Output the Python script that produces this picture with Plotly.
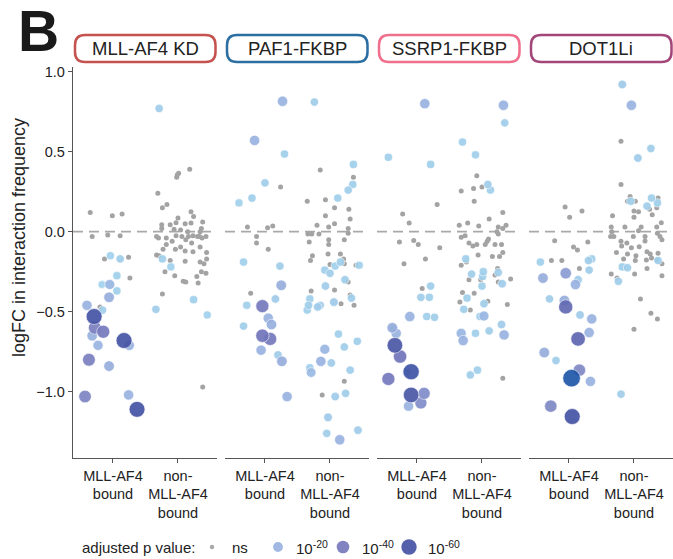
import plotly.graph_objects as go
from plotly.subplots import make_subplots

# ---------------- data ----------------
PANELS = ["MLL-AF4 KD", "PAF1-FKBP", "SSRP1-FKBP", "DOT1Li"]
PANEL_COLORS = ["#c4524e", "#2b6ea1", "#ef6f8d", "#a3477a"]
GROUP_LABELS = ["MLL-AF4<br>bound", "non-<br>MLL-AF4<br>bound"]
Y_TICKS = [1.0, 0.5, 0.0, -0.5, -1.0]
Y_TICK_TEXT = ["1.0", "0.5", "0.0", "\u22120.5", "\u22121.0"]
LEGEND_LEVELS = ["ns", "10<sup>-20</sup>", "10<sup>-40</sup>", "10<sup>-60</sup>"]
LEGEND_SIG = [0, 20, 40, 60]

# sig = -log10(adjusted p); 0 = not significant.  jit = horizontal jitter (category units)
kd_bound_logfc = [0.12, 0.10, 0.11, -0.03, -0.02, -0.025, -0.17, -0.16, -0.29, -0.47,
                  -0.15, -0.17, -0.275, -0.33, -0.37, -0.49,
                  -0.33, -0.41, -0.46, -0.65, -0.71, -0.71, -0.84, -1.02,
                  -0.60, -0.625, -0.80, -1.03, -0.53, -0.68, -1.11]
kd_bound_sig = [0] * 10 + [4, 6, 5, 3, 5, 6] + [18, 22, 20, 21, 20, 19, 22, 20] + [38, 40, 38, 36] + [60, 60, 60]
kd_bound_jit = [-0.35, -0.01, 0.14, -0.32, -0.08, 0.11, -0.13, 0.24, 0.26, -0.20,
                -0.04, 0.11, 0.06, -0.17, 0.06, -0.16,
                -0.05, -0.06, -0.40, -0.32, 0.25, -0.23, -0.06, 0.24,
                -0.28, -0.15, -0.37, -0.43, -0.29, 0.17, 0.37]

kd_non_logfc = [0.77, -0.17, -0.22, -0.425, -0.485, -0.52,
                0.39, 0.355, 0.365, 0.34, 0.24, 0.15, 0.17, 0.125, 0.095, 0.085,
                0.056, 0.044, 0.044, 0.06, 0.05, 0.055, 0.02, 0.015, 0.01, 0.02,
                0.0, 0.0, -0.03, -0.04, -0.04, -0.025, -0.03, -0.03, -0.025, -0.03,
                -0.04, -0.03, -0.06, -0.05, -0.03, -0.07, -0.08, -0.11, -0.095, -0.12,
                -0.125, -0.095, -0.13, -0.11, -0.145, -0.15, -0.18, -0.185, -0.17, -0.2,
                -0.19, -0.25, -0.275, -0.31, -0.315, -0.28, -0.32, -0.25, -0.26, -0.39, -0.97]
kd_non_sig = [6, 5, 4, 5, 6, 4] + [0] * 61
kd_non_jit = [-0.29, -0.24, -0.11, 0.24, -0.34, 0.45,
              0.18, -0.01, 0.01, -0.02, -0.31, -0.24, -0.17, 0.20, 0.24, 0.00,
              -0.03, -0.12, -0.25, 0.38, 0.11, 0.20, -0.25, -0.06, 0.04, 0.36,
              0.15, 0.34, -0.33, -0.30, -0.18, -0.03, 0.06, 0.16, 0.23, 0.30,
              0.37, 0.43, -0.09, 0.12, 0.33, 0.21, -0.18, -0.04, 0.04, 0.11,
              0.23, 0.34, 0.44, -0.23, -0.33, -0.29, -0.12, 0.11, 0.44, 0.40,
              0.34, -0.20, -0.05, 0.08, 0.12, 0.29, 0.31, 0.36, 0.43, -0.24, 0.38]

paf_bound_logfc = [0.815, 0.57, -0.335, -0.54, -0.58, -0.74, -0.81, -1.03,
                   0.485, 0.305, 0.21, 0.18, -0.19, -0.215, -0.42, -0.46, -0.59, -0.77,
                   -0.465, -0.65, -0.67,
                   0.28, 0.03, 0.025, 0.035, -0.03, -0.07, -0.11, -0.385]
paf_bound_sig = [20, 20, 22, 20, 21, 20, 22, 20] + [5, 6, 5, 4, 5, 6, 7, 5, 6, 7] + [40, 42, 40] + [0] * 8
paf_bound_jit = [0.27, -0.16, 0.25, 0.05, 0.10, -0.06, 0.26, 0.34,
                 0.30, 0.0, -0.20, -0.40, -0.33, 0.23, 0.16, -0.28, -0.33, 0.20,
                 -0.04, -0.04, 0.08,
                 0.24, -0.27, 0.04, 0.12, -0.13, -0.13, 0.05, -0.22]

paf_non_logfc = [0.81, 0.42, 0.295, 0.26, 0.21, -0.24, -0.26, -0.215, -0.19, -0.21,
                 -0.30, -0.34, -0.42, -0.46, -0.49, -0.47, -0.46, -0.44, -0.415, -0.64,
                 -0.685, -0.72, -0.82, -0.85, -0.865, -1.03, -1.01, -1.16, -1.26, -1.24,
                 -0.735, -0.81, -0.88, -1.30,
                 0.385, 0.34, 0.19, 0.2, 0.15, 0.14, 0.10, 0.08, 0.05, 0.04,
                 0.03, 0.02, -0.01, -0.015, -0.015, -0.065, -0.015, -0.05, -0.08, -0.05,
                 -0.15, -0.14, -0.14, -0.17, -0.20, -0.205, -0.21, -0.18, -0.315, -0.37,
                 -0.365, -0.395, -0.45, -0.46, -0.935, -1.02]
paf_non_sig = [6, 5, 5, 6, 5, 5, 6, 4, 5, 4, 6, 7, 5, 6, 5, 7, 6, 8, 6, 5,
               5, 6, 7, 5, 6, 7, 6, 8, 6, 7] + [18, 20, 16, 20] + [0] * 36
paf_non_jit = [-0.24, 0.36, 0.35, 0.28, 0.12, -0.08, 0.0, 0.08, 0.16, 0.45,
               0.23, -0.07, -0.31, -0.33, -0.35, -0.19, -0.15, 0.06, 0.33, 0.13,
               0.42, 0.22, 0.02, -0.31, 0.31, 0.08, 0.24, -0.03, -0.05, 0.43,
               -0.08, -0.14, -0.29, 0.15,
               -0.15, 0.36, -0.35, -0.07, 0.07, 0.29, -0.07, 0.31, 0.07, -0.20,
               -0.02, 0.28, 0.28, -0.34, -0.28, -0.32, -0.17, -0.02, -0.02, 0.22,
               -0.27, -0.03, 0.16, 0.21, 0.22, 0.0, 0.40, -0.30, 0.28, -0.29,
               0.07, 0.31, 0.17, 0.37, 0.22, -0.12]

ssrp_bound_logfc = [0.80, -0.53, -0.60, -0.635, -1.09,
                    0.465, 0.42, -0.34, -0.41, -0.41, -0.53, -0.535, -0.61, -0.88,
                    0.17, 0.11, 0.055, -0.065, -0.055, -0.08, -0.10, -0.17, -0.20, -0.355,
                    -0.78, -0.92, -1.01, -1.07,
                    -0.71, -0.875, -1.02]
ssrp_bound_sig = [20, 20, 22, 20, 20] + [5, 5, 6, 6, 5, 5, 6, 7, 6] + [0] * 10 + [42, 40, 33, 33] + [58, 62, 58]
ssrp_bound_jit = [0.12, -0.11, -0.38, -0.32, -0.13,
                  -0.44, 0.21, 0.21, 0.06, 0.19, 0.15, 0.27, -0.36, -0.16,
                  0.31, -0.22, -0.12, -0.27, -0.05, 0.02, 0.35, 0.13, -0.20, 0.08,
                  -0.26, -0.44, 0.11, 0.06,
                  -0.34, -0.09, -0.09]

ssrp_non_logfc = [0.79, -0.527, -0.645, -0.635, -0.68,
                  0.68, 0.56, 0.48, 0.295, 0.26, -0.17, -0.265, -0.25, -0.28, -0.255,
                  -0.325, -0.34, -0.415, -0.45, -0.485, -0.53, -0.58, -0.62, -0.635, -0.895, -0.865,
                  0.35, 0.28, 0.27, 0.255, 0.19, 0.12, 0.08, 0.04, 0.055, 0.035,
                  0.04, 0.03, 0.02, 0.0, -0.015, -0.035, -0.025, -0.07, -0.09, -0.08,
                  -0.08, -0.06, -0.045, -0.08, -0.08, -0.13, -0.155, -0.155, -0.145, -0.19,
                  -0.21, -0.23, -0.27, -0.30, -0.30, -0.315, -0.295, -0.38, -0.385, -0.44,
                  -0.49, -0.435, -0.455, -0.915]
ssrp_non_sig = [20, 18, 20, 18, 20] + [6, 5, 5, 6, 5, 5, 6, 5, 5, 6, 7, 5, 5, 6, 5, 5, 7, 6, 5, 6, 5] + [0] * 44
ssrp_non_jit = [0.33, 0.03, 0.34, -0.32, -0.29,
                0.35, -0.30, -0.10, 0.09, 0.13, -0.25, -0.16, 0.02, 0.01, 0.25,
                0.31, 0.0, -0.23, 0.03, -0.28, -0.03, 0.30, 0.11, -0.10, -0.18, -0.07,
                -0.08, 0.0, -0.13, -0.32, -0.12, 0.32, 0.11, -0.35, -0.22, -0.05,
                0.37, 0.25, 0.32, 0.23, 0.25, -0.32, -0.26, -0.20, -0.14, -0.08,
                0.05, 0.08, 0.10, 0.20, 0.30, 0.32, 0.16, 0.27, -0.06, -0.24,
                -0.32, 0.24, 0.20, -0.02, -0.20, 0.25, 0.44, -0.30, -0.12, -0.34,
                -0.18, 0.09, 0.39, 0.32]

dot_bound_logfc = [0.155, 0.13, 0.09, -0.056, -0.065, -0.095, -0.115, -0.18, -0.18, -0.23,
                   -0.19, -0.18, -0.17, -0.24, -0.30, -0.42, -0.52, -0.805,
                   -0.29, -0.33, -0.43, -0.545, -0.63, -0.755, -0.935, -0.26,
                   -0.47, -0.67, -0.865, -1.09,
                   -1.155, -0.915]
dot_bound_sig = [0] * 10 + [5, 6, 5, 6, 7, 6, 7, 6] + [22, 20, 22, 20, 20, 22, 20, 28] + [48, 50, 35, 35] + [60, 72]
dot_bound_jit = [-0.06, 0.20, 0.01, -0.22, 0.29, 0.07, 0.13, -0.27, -0.11, 0.16,
                 -0.44, 0.30, 0.35, 0.31, 0.14, -0.30, 0.17, -0.20,
                 -0.40, 0.10, -0.07, 0.35, 0.31, -0.38, 0.33, -0.05,
                 -0.05, 0.14, 0.16, -0.28,
                 0.05, 0.04]

dot_non_logfc = [0.92, 0.52, 0.46, 0.21, 0.18, 0.19, 0.16, -0.18, -0.22, -0.225, -0.31, -1.015,
                 0.79,
                 0.565, 0.295, 0.22, 0.19, 0.19, 0.21, 0.15, 0.14, 0.106, 0.13,
                 0.125, 0.09, 0.10, 0.056, 0.03, 0.03, 0.03, 0.03, 0.006, 0.0,
                 -0.03, -0.03, -0.06, -0.07, -0.03, -0.03, -0.058, -0.01, -0.03, -0.05,
                 -0.09, -0.10, -0.094, -0.13, -0.14, -0.15, -0.125, -0.14, -0.135, -0.165,
                 -0.17, -0.177, -0.177, -0.18, -0.20, -0.265, -0.29, -0.265, -0.23, -0.275,
                 -0.42, -0.51, -0.545, -0.61]
dot_non_sig = [8, 6, 7, 5, 5, 5, 6, 5, 5, 6, 6, 6] + [20] + [0] * 54
dot_non_jit = [-0.18, 0.26, 0.06, 0.27, 0.36, -0.05, 0.20, 0.37, -0.18, -0.10, -0.24, -0.20,
               -0.04,
               -0.20, -0.20, -0.06, -0.10, 0.02, 0.37, 0.35, 0.24, 0.28, 0.0,
               0.07, 0.0, -0.33, 0.42, 0.35, -0.35, -0.14, 0.11, 0.07, -0.34,
               -0.36, -0.31, -0.20, -0.11, -0.01, 0.17, 0.17, 0.36, 0.40, 0.43,
               -0.19, -0.04, 0.08, -0.27, -0.10, 0.03, 0.20, 0.25, 0.37, 0.27,
               -0.16, 0.35, 0.19, 0.02, 0.43, -0.35, -0.26, 0.01, 0.20, 0.43,
               0.10, 0.26, 0.36, 0.0]

DATA = [
    [(kd_bound_logfc, kd_bound_sig, kd_bound_jit), (kd_non_logfc, kd_non_sig, kd_non_jit)],
    [(paf_bound_logfc, paf_bound_sig, paf_bound_jit), (paf_non_logfc, paf_non_sig, paf_non_jit)],
    [(ssrp_bound_logfc, ssrp_bound_sig, ssrp_bound_jit), (ssrp_non_logfc, ssrp_non_sig, ssrp_non_jit)],
    [(dot_bound_logfc, dot_bound_sig, dot_bound_jit), (dot_non_logfc, dot_non_sig, dot_non_jit)],
]

# ---------------- style ----------------
FONT = "Liberation Sans, Arial, Helvetica, sans-serif"
NS_COLOR = "#a3a3a3"
SIG_SCALE = [[0.0, "#a3d8ef"], [20 / 72, "#99b3e0"], [40 / 72, "#7679bc"],
             [60 / 72, "#4553a4"], [1.0, "#1f57a8"]]
AXIS_COLOR = "#555555"
TEXT_COLOR = "#222222"
W, H = 673, 559
ML, MR, MT, MB = 73, 0, 67, 101
PW = W - ML - MR
PH = H - MT - MB


def sig_size(s):
    return 7.5 + 0.14 * s


def interp_color(s):
    t = max(0.0, min(1.0, s / 72))
    for (a, ca), (b, cb) in zip(SIG_SCALE[:-1], SIG_SCALE[1:]):
        if a <= t <= b:
            f = (t - a) / (b - a) if b > a else 0
            c1 = [int(ca[i:i + 2], 16) for i in (1, 3, 5)]
            c2 = [int(cb[i:i + 2], 16) for i in (1, 3, 5)]
            c = [round(c1[k] + (c2[k] - c1[k]) * f) for k in range(3)]
            return "rgb(%d,%d,%d)" % tuple(c)
    return SIG_SCALE[-1][1]


fig = make_subplots(rows=1, cols=4, shared_yaxes=True, horizontal_spacing=8 / PW)

for p, groups in enumerate(DATA):
    col = p + 1
    for g, (lfc, sig, jit) in enumerate(groups):
        cat = g + 1
        ns = [(v, j) for v, s, j in zip(lfc, sig, jit) if s == 0]
        sg = sorted([(s, v, j) for v, s, j in zip(lfc, sig, jit) if s > 0])
        fig.add_trace(go.Scatter(
            x=[cat + j for v, j in ns], y=[v for v, j in ns], mode="markers",
            marker=dict(size=5, color=NS_COLOR, line=dict(width=0)),
            showlegend=False, hoverinfo="y"), row=1, col=col)
        fig.add_trace(go.Scatter(
            x=[cat + j for s, v, j in sg], y=[v for s, v, j in sg], mode="markers",
            marker=dict(size=[sig_size(s) for s, v, j in sg],
                        color=[interp_color(s) for s, v, j in sg],
                        opacity=0.92, line=dict(width=0.6, color="white")),
            showlegend=False, hoverinfo="y"), row=1, col=col)

for i in range(1, 5):
    fig.update_xaxes(row=1, col=i, range=[0.385, 2.6], tickvals=[1, 2], ticktext=GROUP_LABELS,
                     showline=True, linecolor=AXIS_COLOR, linewidth=1.3, ticks="outside",
                     ticklen=4, tickcolor=AXIS_COLOR, tickwidth=1.2, showgrid=False, zeroline=False,
                     tickfont=dict(family=FONT, size=14.5, color=TEXT_COLOR), fixedrange=True)
    fig.update_yaxes(row=1, col=i, range=[-1.414, 1.029], showgrid=False, zeroline=False, fixedrange=True)
    fig.add_shape(type="line", xref=f"x{'' if i == 1 else i} domain", x0=0, x1=1,
                  yref=f"y{'' if i == 1 else i}", y0=0, y1=0, layer="below",
                  line=dict(color="#a8a8a8", width=1.8, dash="10px,6px"))

fig.update_yaxes(row=1, col=1, tickvals=Y_TICKS, ticktext=Y_TICK_TEXT, showline=True,
                 linecolor=AXIS_COLOR, linewidth=1.3, ticks="outside", ticklen=4,
                 tickcolor=AXIS_COLOR, tickwidth=1.2,
                 tickfont=dict(family=FONT, size=14.5, color=TEXT_COLOR))
for i in range(2, 5):
    fig.update_yaxes(row=1, col=i, showline=False, ticks="", showticklabels=False)

# panel header boxes
rx, ry = 10 / PW, 10 / PH
y0b, y1b = (MT + PH - 62) / PH, (MT + PH - 35) / PH
for i in range(4):
    dom = fig.layout[f"xaxis{'' if i == 0 else i + 1}"].domain
    x0, x1 = dom[0] + 2.0 / PW, dom[1] - 1.5 / PW
    path = (f"M {x0 + rx},{y0b} L {x1 - rx},{y0b} Q {x1},{y0b} {x1},{y0b + ry} "
            f"L {x1},{y1b - ry} Q {x1},{y1b} {x1 - rx},{y1b} L {x0 + rx},{y1b} "
            f"Q {x0},{y1b} {x0},{y1b - ry} L {x0},{y0b + ry} Q {x0},{y0b} {x0 + rx},{y0b} Z")
    fig.add_shape(type="path", path=path, xref="paper", yref="paper",
                  line=dict(color=PANEL_COLORS[i], width=2.5), fillcolor="white")
    fig.add_annotation(x=(x0 + x1) / 2, y=(y0b + y1b) / 2, xref="paper", yref="paper",
                       text=PANELS[i], showarrow=False, xanchor="center", yanchor="middle",
                       font=dict(family=FONT, size=18.5, color=TEXT_COLOR))


def px_x(px):
    return (px - ML) / PW


def px_y(py):
    return (MT + PH - py) / PH


# panel letter
fig.add_annotation(x=px_x(16), y=px_y(31), xref="paper", yref="paper", text="<b>B</b>",
                   showarrow=False, xanchor="left", yanchor="middle",
                   font=dict(family=FONT, size=57, color="#1a1a1a"))
# y title
fig.add_annotation(x=px_x(19), y=px_y(238), xref="paper", yref="paper",
                   text="logFC in interaction frequency", textangle=-90, showarrow=False,
                   xanchor="center", yanchor="middle", font=dict(family=FONT, size=18, color=TEXT_COLOR))

# legend (bottom)
LY = 547
fig.add_annotation(x=px_x(80), y=px_y(LY), xref="paper", yref="paper", text="adjusted p value:",
                   showarrow=False, xanchor="left", yanchor="middle",
                   font=dict(family=FONT, size=15, color=TEXT_COLOR))
dot_x = [212, 278, 343, 409]
txt_x = [230, 294, 360, 426]
for k, lab in enumerate(LEGEND_LEVELS):
    s = LEGEND_SIG[k]
    d = 4.5 if s == 0 else sig_size(s) - 0.5
    col = NS_COLOR if s == 0 else interp_color(s)
    fig.add_shape(type="circle", xref="paper", yref="paper", xsizemode="pixel", ysizemode="pixel",
                  xanchor=px_x(dot_x[k]), yanchor=px_y(LY), x0=-d / 2, x1=d / 2, y0=-d / 2, y1=d / 2,
                  fillcolor=col, line=dict(width=0), opacity=0.92)
    fig.add_annotation(x=px_x(txt_x[k]), y=px_y(LY), xref="paper", yref="paper", text=lab,
                       showarrow=False, xanchor="left", yanchor="middle",
                       font=dict(family=FONT, size=15, color=TEXT_COLOR))

fig.update_layout(width=W, height=H, margin=dict(l=ML, r=MR, t=MT, b=MB),
                  plot_bgcolor="white", paper_bgcolor="white", showlegend=False,
                  font=dict(family=FONT, size=14, color=TEXT_COLOR))

fig.write_html("out.html", config={"displayModeBar": False},
               post_script="document.body.style.margin='0';")
